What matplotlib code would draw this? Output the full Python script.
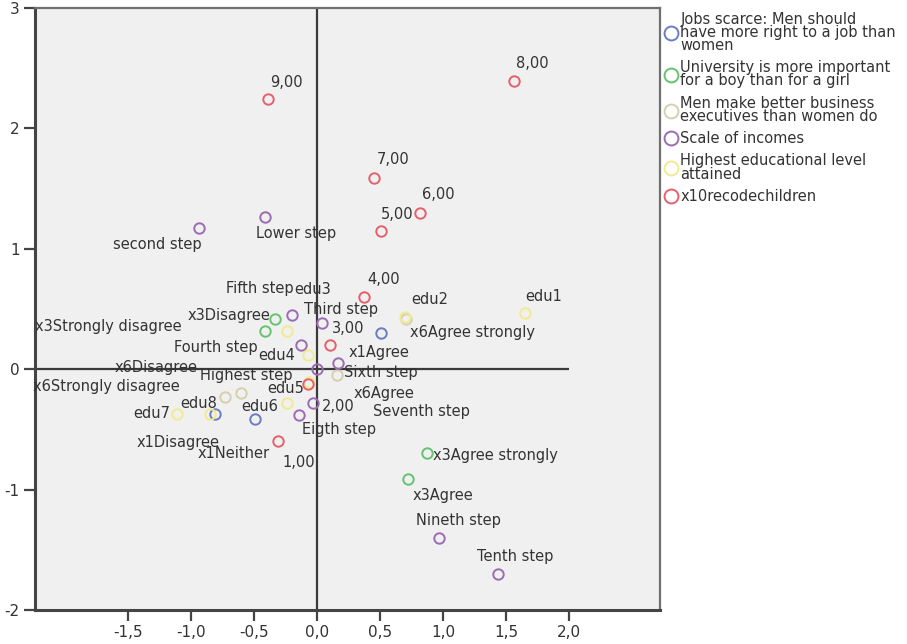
import matplotlib
matplotlib.use("Agg")
import matplotlib.pyplot as plt
from matplotlib.lines import Line2D

plt.rcParams['font.family'] = ['DejaVu Sans']
plt.rcParams['axes.unicode_minus'] = False

# category points, dimension 1 (x) and dimension 2 (y)
x1_labels = ["x1Agree", "x1Disagree", "x1Neither"]
x1_dim1 = [0.51, -0.81, -0.49]
x1_dim2 = [0.30, -0.37, -0.41]

x3_labels = ["x3Disagree", "x3Strongly disagree", "x3Agree strongly", "x3Agree"]
x3_dim1 = [-0.33, -0.41, 0.87, 0.72]
x3_dim2 = [0.42, 0.32, -0.70, -0.91]

x6_labels = ["x6Agree strongly", "x6Agree", "x6Disagree", "x6Strongly disagree"]
x6_dim1 = [0.71, 0.16, -0.60, -0.73]
x6_dim2 = [0.42, -0.05, -0.20, -0.23]

inc_labels = ["Lower step", "second step", "Third step", "Fourth step", "Fifth step",
              "Sixth step", "Seventh step", "Eigth step", "Nineth step", "Tenth step",
              "Highest step"]
inc_dim1 = [-0.41, -0.94, 0.04, -0.13, -0.20, 0.17, -0.03, -0.14, 0.97, 1.44, 0.00]
inc_dim2 = [1.26, 1.17, 0.38, 0.20, 0.45, 0.05, -0.28, -0.38, -1.40, -1.70, 0.00]

edu_labels = ["edu1", "edu2", "edu3", "edu4", "edu5", "edu6", "edu7", "edu8"]
edu_dim1 = [1.65, 0.70, -0.24, -0.07, -0.06, -0.24, -1.11, -0.85]
edu_dim2 = [0.47, 0.43, 0.32, 0.12, -0.11, -0.28, -0.37, -0.37]

child_labels = ["1,00", "2,00", "3,00", "4,00", "5,00", "6,00", "7,00", "8,00", "9,00"]
child_dim1 = [-0.31, -0.07, 0.10, 0.37, 0.51, 0.82, 0.45, 1.56, -0.39]
child_dim2 = [-0.60, -0.12, 0.20, 0.60, 1.15, 1.30, 1.59, 2.39, 2.24]

legend_names = ["Jobs scarce: Men should\nhave more right to a job than\nwomen",
                "University is more important\nfor a boy than for a girl",
                "Men make better business\nexecutives than women do",
                "Scale of incomes",
                "Highest educational level\nattained",
                "x10recodechildren"]

colors = ["#6a7cc2", "#62c46e", "#d6d0ac", "#9c6cb2", "#f0ea90", "#e5606a"]

# where each point label sits, in pixels from its point
label_offsets = {
    "1,00": (5, -21), "2,00": (14, -23), "3,00": (2, 17), "4,00": (4, 17),
    "5,00": (0, 16), "6,00": (2, 18), "7,00": (3, 18), "8,00": (2, 18), "9,00": (2, 17),
    "Lower step": (-9, -16), "second step": (-86, -16), "Third step": (-18, 14),
    "Fourth step": (-127, -2), "Fifth step": (-66, 26), "Sixth step": (6, -9),
    "Seventh step": (60, -9), "Eigth step": (3, -15), "Nineth step": (-23, 17),
    "Tenth step": (-21, 17), "Highest step": (-117, -6),
    "x1Agree": (-33, -19), "x1Disagree": (-78, -29), "x1Neither": (-58, -35),
    "x3Disagree": (-88, 3), "x3Strongly disagree": (-230, 4),
    "x3Agree strongly": (6, -2), "x3Agree": (5, -17),
    "x6Agree strongly": (4, -14), "x6Agree": (16, -18), "x6Disagree": (-127, 26),
    "x6Strongly disagree": (-192, 10),
    "edu1": (0, 16), "edu2": (6, 18), "edu3": (8, 41), "edu4": (-50, -1),
    "edu5": (-42, -6), "edu6": (-45, -4), "edu7": (-44, 0), "edu8": (-30, 10),
}

series = [
    (x1_labels, x1_dim1, x1_dim2),
    (x3_labels, x3_dim1, x3_dim2),
    (x6_labels, x6_dim1, x6_dim2),
    (inc_labels, inc_dim1, inc_dim2),
    (edu_labels, edu_dim1, edu_dim2),
    (child_labels, child_dim1, child_dim2),
]

fig = plt.figure(figsize=(9.07, 6.44), dpi=100)
ax = fig.add_axes([0.0386, 0.0528, 0.689, 0.935])
ax.set_facecolor("#f0f0f0")

xmin, xmax = -2.238, 2.722
ax.set_xlim(xmin, xmax)
ax.set_ylim(-2, 3)

# reference lines through the origin
ax.axvline(0, color="#3a3a3a", lw=1.6, zorder=1)
ax.hlines(0, xmin, 2.0, color="#3a3a3a", lw=1.6, zorder=1)

txt_color = "#333333"
for (labels, xs, ys), col in zip(series, colors):
    ax.plot(xs, ys, ls="", marker="o", ms=7.5, mfc="none", mec=col, mew=1.4, zorder=3)
    for lab, x, y in zip(labels, xs, ys):
        dx, dy = label_offsets[lab]
        ax.annotate(lab, (x, y), xytext=(dx, dy), textcoords="offset pixels",
                    ha="left", va="center", fontsize=10.5, color=txt_color, zorder=4)

xt = [-1.5, -1.0, -0.5, 0.0, 0.5, 1.0, 1.5, 2.0]
ax.set_xticks(xt)
ax.set_xticklabels([f"{v:.1f}".replace(".", ",") for v in xt])
yt = [-2, -1, 0, 1, 2, 3]
ax.set_yticks(yt)
ax.set_yticklabels([str(v) for v in yt])
ax.tick_params(direction="out", length=8, width=1.6, color="#444444",
               labelsize=11, labelcolor=txt_color, pad=3)

for s in ["left", "bottom"]:
    ax.spines[s].set_color("#444444")
    ax.spines[s].set_linewidth(2.2)
for s in ["top", "right"]:
    ax.spines[s].set_color("#707070")
    ax.spines[s].set_linewidth(1.6)

handles = [Line2D([], [], ls="", marker="o", ms=10, mfc="none", mec=c, mew=1.4) for c in colors]
leg = ax.legend(handles, legend_names, loc="upper left", bbox_to_anchor=(1.0, 1.0),
                frameon=False, fontsize=10.5, borderaxespad=0, borderpad=0.25,
                handlelength=1.0, handletextpad=0.15, labelspacing=0.5)
for t in leg.get_texts():
    t.set_linespacing(0.85)
    t.set_color(txt_color)

fig.savefig("out.png", dpi=100)
